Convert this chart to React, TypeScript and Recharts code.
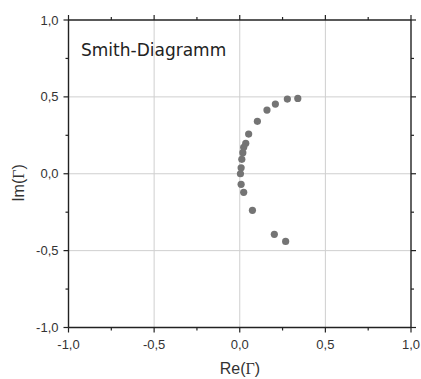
import React from "react";
import {
  ScatterChart,
  Scatter,
  XAxis,
  YAxis,
  ReferenceLine,
} from "recharts";

// reflection coefficient points
const re = [0.339, 0.278, 0.208, 0.159, 0.103, 0.052, 0.035, 0.023, 0.018, 0.012, 0.008, 0.004, 0.008, 0.023, 0.074, 0.202, 0.268];
const im = [0.49, 0.486, 0.453, 0.414, 0.341, 0.258, 0.198, 0.172, 0.137, 0.094, 0.039, 0.0, -0.069, -0.121, -0.238, -0.394, -0.44];

const allTicks = [-1, -0.75, -0.5, -0.25, 0, 0.25, 0.5, 0.75, 1];
const majorTicks = [-1, -0.5, 0, 0.5, 1];
const gridValues = [-0.5, 0, 0.5];

const points = re.map((x, i) => ({ x, y: im[i] }));

const AXIS = "#222";
const fmt = (v: number) => v.toFixed(1).replace(".", ",");
const isMajor = (v: number) => majorTicks.includes(v);
const labelFont = "'Liberation Sans', Arial, sans-serif";

const BottomTick = (props: any) => {
  const { x, y, payload } = props;
  const major = isMajor(payload.value);
  return (
    <g>
      <line x1={x} x2={x} y1={y} y2={y + (major ? 5 : 3)} stroke={AXIS} strokeWidth={1.2} />
      {major && (
        <text x={x} y={y + 21} textAnchor="middle" fontSize={13} fill="#333" fontFamily={labelFont}>
          {fmt(payload.value)}
        </text>
      )}
    </g>
  );
};

const TopTick = (props: any) => {
  const { x, y, payload } = props;
  const major = isMajor(payload.value);
  return <line x1={x} x2={x} y1={y} y2={y - (major ? 5 : 3)} stroke={AXIS} strokeWidth={1.2} />;
};

const LeftTick = (props: any) => {
  const { x, y, payload } = props;
  const major = isMajor(payload.value);
  return (
    <g>
      <line x1={x} x2={x - (major ? 5 : 3)} y1={y} y2={y} stroke={AXIS} strokeWidth={1.2} />
      {major && (
        <text x={x - 10} y={y + 4.5} textAnchor="end" fontSize={13} fill="#333" fontFamily={labelFont}>
          {fmt(payload.value)}
        </text>
      )}
    </g>
  );
};

const RightTick = (props: any) => {
  const { x, y, payload } = props;
  const major = isMajor(payload.value);
  return <line x1={x} x2={x + (major ? 5 : 3)} y1={y} y2={y} stroke={AXIS} strokeWidth={1.2} />;
};

const Dot = (props: any) => <circle cx={props.cx} cy={props.cy} r={3.6} fill="#747474" />;
const NoDot = () => <g />;

const App = () => {
  return (
    <div style={{ position: "absolute", left: 0, top: 0, background: "#fff" }}>
      <ScatterChart width={421} height={379} margin={{ top: 19, right: 9, bottom: 0, left: 0 }}>
        {gridValues.map((v) => (
          <ReferenceLine key={"v" + v} x={v} stroke="#cfcfcf" strokeWidth={1} />
        ))}
        {gridValues.map((v) => (
          <ReferenceLine key={"h" + v} y={v} stroke="#cfcfcf" strokeWidth={1} />
        ))}
        <XAxis
          type="number"
          dataKey="x"
          domain={[-1, 1]}
          ticks={allTicks}
          interval={0}
          height={51.5}
          tickSize={0}
          tickMargin={0}
          tick={<BottomTick />}
          axisLine={{ stroke: AXIS, strokeWidth: 1.4 }}
        />
        <XAxis
          xAxisId="top"
          orientation="top"
          type="number"
          dataKey="x"
          domain={[-1, 1]}
          ticks={allTicks}
          interval={0}
          height={1}
          tickSize={0}
          tickMargin={0}
          tick={<TopTick />}
          axisLine={{ stroke: AXIS, strokeWidth: 1.4 }}
        />
        <YAxis
          type="number"
          dataKey="y"
          domain={[-1, 1]}
          ticks={allTicks}
          interval={0}
          width={68.5}
          tickSize={0}
          tickMargin={0}
          tick={<LeftTick />}
          axisLine={{ stroke: AXIS, strokeWidth: 1.4 }}
        />
        <YAxis
          yAxisId="right"
          orientation="right"
          type="number"
          dataKey="y"
          domain={[-1, 1]}
          ticks={allTicks}
          interval={0}
          width={1}
          tickSize={0}
          tickMargin={0}
          tick={<RightTick />}
          axisLine={{ stroke: AXIS, strokeWidth: 1.4 }}
        />
        <Scatter data={points} shape={<Dot />} isAnimationActive={false} />
        <Scatter
          data={points}
          xAxisId="top"
          yAxisId="right"
          shape={<NoDot />}
          isAnimationActive={false}
        />
        <text x={81} y={56} fontSize={17} fill="#222" fontFamily="'DejaVu Sans', Verdana, sans-serif">
          Smith-Diagramm
        </text>
        <text x={240} y={374} textAnchor="middle" fontSize={16} fill="#333" fontFamily={labelFont}>
          Re(<tspan fontFamily="'Liberation Serif', serif">Γ</tspan>)
        </text>
        <text
          x={24}
          y={183}
          textAnchor="middle"
          fontSize={16}
          fill="#333"
          fontFamily={labelFont}
          transform="rotate(-90 24 183)"
        >
          Im(<tspan fontFamily="'Liberation Serif', serif">Γ</tspan>)
        </text>
      </ScatterChart>
    </div>
  );
};

export default App;
